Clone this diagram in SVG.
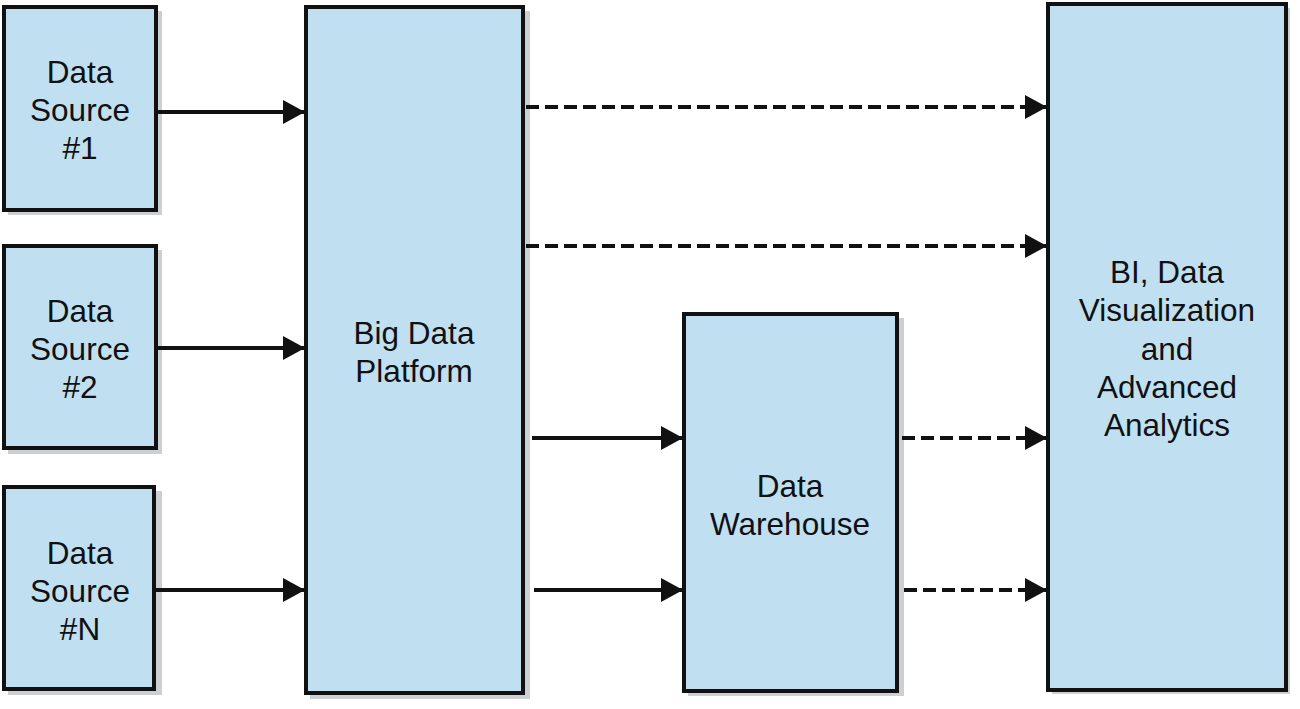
<svg xmlns="http://www.w3.org/2000/svg" width="1300" height="709" viewBox="0 0 1300 709">
<style>
.box{fill:#c0e0f1;stroke:#111;stroke-width:4}
.sh{fill:#b8bcc0;opacity:0.7}
.t{font-family:"Liberation Sans",Arial,sans-serif;font-size:31.5px;fill:#111;text-anchor:middle}
.c{stroke:#111;stroke-width:4;fill:none}
.d{stroke-dasharray:13 6}
</style>
<defs>
<marker id="ah" markerUnits="userSpaceOnUse" markerWidth="22" markerHeight="24" refX="21" refY="12" orient="auto">
<path d="M0,0 L22,12 L0,24 Z" fill="#111"/>
</marker>
</defs>
<rect width="1300" height="709" fill="#fff"/>
<g id="ds1">
<rect class="sh" x="8" y="11" width="154" height="204"/>
<rect class="box" x="4" y="7" width="152" height="203"/>
<text class="t" x="80" y="83">Data</text>
<text class="t" x="80" y="121">Source</text>
<text class="t" x="80" y="159">#1</text>
</g>
<g id="ds2">
<rect class="sh" x="8" y="250" width="154" height="204"/>
<rect class="box" x="4" y="246" width="152" height="202"/>
<text class="t" x="80" y="322">Data</text>
<text class="t" x="80" y="360">Source</text>
<text class="t" x="80" y="398">#2</text>
</g>
<g id="dsn">
<rect class="sh" x="8" y="491" width="154" height="204"/>
<rect class="box" x="4" y="487" width="150" height="202"/>
<text class="t" x="80" y="564">Data</text>
<text class="t" x="80" y="602">Source</text>
<text class="t" x="80" y="640">#N</text>
</g>
<g id="bdp">
<rect class="sh" x="310" y="11" width="220" height="688"/>
<rect class="box" x="306" y="7" width="217" height="686"/>
<text class="t" x="414" y="344">Big Data</text>
<text class="t" x="414" y="382">Platform</text>
</g>
<g id="dw">
<rect class="sh" x="688" y="318" width="216" height="378"/>
<rect class="box" x="684" y="314" width="213" height="377"/>
<text class="t" x="790" y="497">Data</text>
<text class="t" x="790" y="535">Warehouse</text>
</g>
<g id="bi">
<rect class="sh" x="1052" y="8" width="238" height="686"/>
<rect class="box" x="1048" y="4" width="238" height="686"/>
<text class="t" x="1167" y="283">BI, Data</text>
<text class="t" x="1167" y="321">Visualization</text>
<text class="t" x="1167" y="360">and</text>
<text class="t" x="1167" y="398">Advanced</text>
<text class="t" x="1167" y="436">Analytics</text>
</g>
<g id="connectors">
<line class="c" x1="158" y1="112" x2="304" y2="112" marker-end="url(#ah)"/>
<line class="c" x1="158" y1="348" x2="304" y2="348" marker-end="url(#ah)"/>
<line class="c" x1="156" y1="590" x2="304" y2="590" marker-end="url(#ah)"/>
<line class="c d" x1="526" y1="107" x2="1046" y2="107" marker-end="url(#ah)"/>
<line class="c d" x1="526" y1="246" x2="1046" y2="246" marker-end="url(#ah)"/>
<line class="c" x1="532" y1="438" x2="682" y2="438" marker-end="url(#ah)"/>
<line class="c" x1="534" y1="590" x2="682" y2="590" marker-end="url(#ah)"/>
<line class="c d" x1="902" y1="438" x2="1046" y2="438" marker-end="url(#ah)"/>
<line class="c d" x1="904" y1="590" x2="1046" y2="590" marker-end="url(#ah)"/>
</g>
</svg>
